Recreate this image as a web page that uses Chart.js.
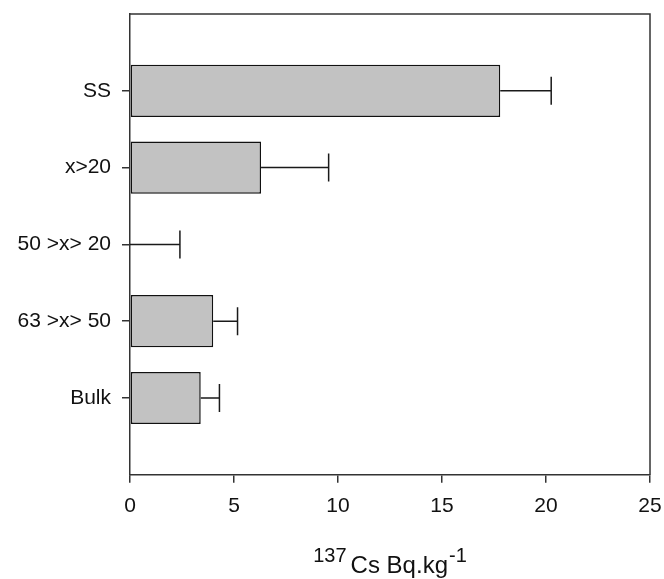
<!DOCTYPE html>
<html>
<head>
<meta charset="utf-8">
<script src="https://cdn.jsdelivr.net/npm/chart.js@4/dist/chart.umd.min.js"></script>
<style>
  html, body { margin: 0; padding: 0; background: #fff; }
  #wrap { width: 664px; height: 579px; }
</style>
</head>
<body>
<div id="wrap"><canvas id="csChart" width="664" height="579"></canvas></div>
<script>
// fractions, top to bottom
var categories = ['SS', 'x>20', '50 >x> 20', '63 >x> 50', 'Bulk'];
var csMeans = [17.8, 6.3, 0, 4.0, 3.4];
var csErrors = [2.45, 3.25, 2.4, 1.17, 0.9];
var xTicks = [0, 5, 10, 15, 20, 25];

var fontFamily = '"Liberation Sans", Arial, Helvetica, sans-serif';

// bars sit on a numeric index axis (1..n) so there is empty room above and below
var barData = categories.map(function (c, i) {
    return { x: csMeans[i], y: i + 1 };
});

// one-sided error bars (upper side only)
var errorBars = {
    id: 'errorBars',
    afterDatasetsDraw: function (chart) {
        var ctx = chart.ctx,
            xs = chart.scales.x,
            ys = chart.scales.y;
        ctx.save();
        ctx.strokeStyle = '#1a1a1a';
        ctx.lineWidth = 1.5;
        categories.forEach(function (c, i) {
            var y = ys.getPixelForValue(i + 1);
            var x0 = xs.getPixelForValue(csMeans[i]);
            var x1 = xs.getPixelForValue(csMeans[i] + csErrors[i]);
            ctx.beginPath();
            ctx.moveTo(x0, y);
            ctx.lineTo(x1, y);
            ctx.moveTo(x1, y - 14);
            ctx.lineTo(x1, y + 14);
            ctx.stroke();
        });
        ctx.restore();
    }
};

// closes the frame on top and right, then writes the x title with superscripts
var frameAndTitle = {
    id: 'frameAndTitle',
    afterDraw: function (chart) {
        var ctx = chart.ctx,
            a = chart.chartArea;
        ctx.save();
        ctx.strokeStyle = '#333';
        ctx.lineWidth = 1.5;
        ctx.beginPath();
        ctx.moveTo(a.left, a.top);
        ctx.lineTo(a.right, a.top);
        ctx.lineTo(a.right, a.bottom);
        ctx.stroke();

        var supFont = '20px ' + fontFamily,
            mainFont = '24px ' + fontFamily;
        var pre = '137', main = 'Cs Bq.kg', post = '-1';
        ctx.font = supFont;
        var wPre = ctx.measureText(pre).width,
            wPost = ctx.measureText(post).width;
        ctx.font = mainFont;
        var wMain = ctx.measureText(main).width;
        var gap = 4;
        var total = wPre + gap + wMain + 1 + wPost;
        var x = (a.left + a.right) / 2 - total / 2;
        var base = chart.height - 6;

        ctx.fillStyle = '#111';
        ctx.textBaseline = 'alphabetic';
        ctx.textAlign = 'left';
        ctx.font = supFont;
        ctx.fillText(pre, x, base - 11);
        x += wPre + gap;
        ctx.font = mainFont;
        ctx.fillText(main, x, base);
        x += wMain + 1;
        ctx.font = supFont;
        ctx.fillText(post, x, base - 11);
        ctx.restore();
    }
};

new Chart(document.getElementById('csChart'), {
    type: 'bar',
    data: {
        datasets: [{
            data: barData,
            backgroundColor: '#c2c2c2',
            borderColor: '#111',
            borderWidth: 1.5,
            borderSkipped: false,
            barPercentage: 0.68,
            categoryPercentage: 1
        }]
    },
    options: {
        indexAxis: 'y',
        responsive: false,
        animation: false,
        layout: { padding: { left: 10, right: 14, top: 14, bottom: 49 } },
        plugins: {
            legend: { display: false },
            tooltip: { enabled: false },
            title: { display: false }
        },
        scales: {
            x: {
                type: 'linear',
                min: 0,
                max: 25,
                afterBuildTicks: function (s) {
                    s.ticks = xTicks.map(function (v) { return { value: v }; });
                },
                afterFit: function (s) { s.paddingLeft = 0; s.paddingRight = 0; },
                grid: { drawOnChartArea: false, tickLength: 8, color: '#333', lineWidth: 1.5 },
                border: { color: '#333', width: 1.5 },
                ticks: {
                    color: '#111',
                    padding: 11,
                    maxRotation: 0,
                    font: { family: fontFamily, size: 21 }
                }
            },
            y: {
                type: 'linear',
                reverse: true,
                offset: false,
                min: 0,
                max: 6,
                afterBuildTicks: function (s) {
                    s.ticks = categories.map(function (c, i) { return { value: i + 1 }; });
                },
                afterFit: function (s) {
                    s.width = 120;
                    s.paddingTop = 0;
                    s.paddingBottom = 0;
                },
                grid: { offset: false, drawOnChartArea: false, tickLength: 8, color: '#333', lineWidth: 1.5 },
                border: { color: '#333', width: 1.5 },
                ticks: {
                    color: '#111',
                    padding: 11,
                    font: { family: fontFamily, size: 21 },
                    callback: function (v) { return categories[v - 1] || ''; }
                }
            }
        }
    },
    plugins: [errorBars, frameAndTitle]
});
</script>
</body>
</html>
